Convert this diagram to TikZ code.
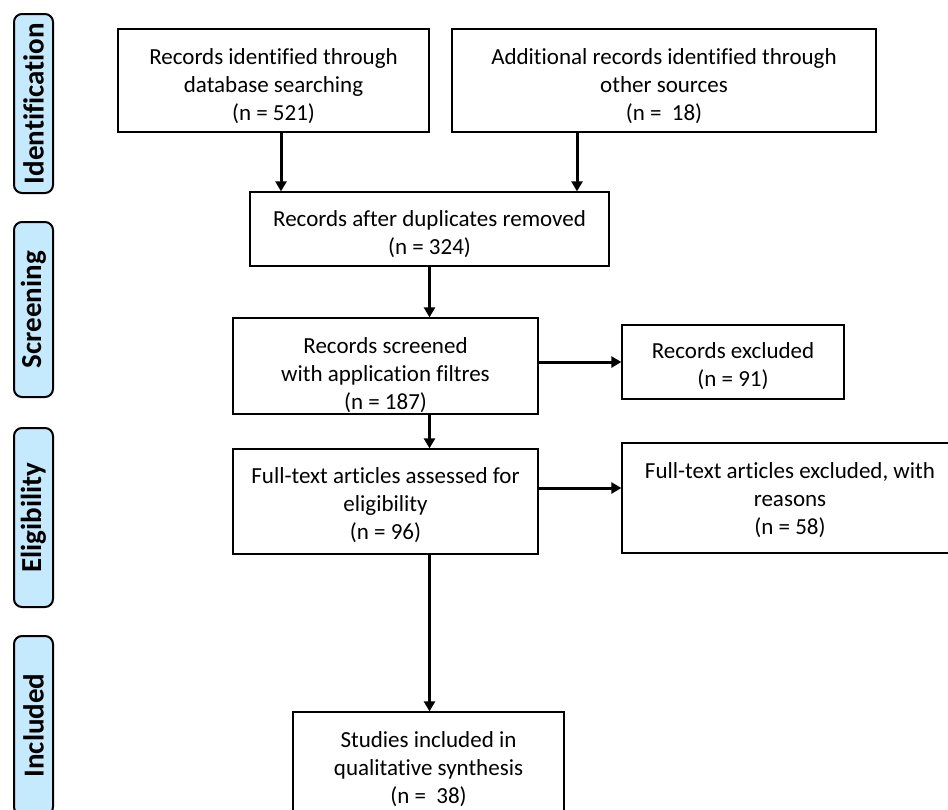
\documentclass[tikz,border=0pt]{standalone}
\usepackage{fontspec}
\setmainfont{Carlito}[Ligatures=NoCommon]
\usetikzlibrary{arrows.meta}
\definecolor{phaseblue}{RGB}{197,234,253}
\tikzset{
	box/.style={draw, line width=1.3pt, align=center, inner sep=0pt,
		font=\fontsize{23}{28}\selectfont},
	phase/.style={draw, line width=2pt, fill=phaseblue, rounded corners=8pt,
		minimum height=39pt, rotate=90, font=\fontsize{29}{34}\selectfont\bfseries},
	flow/.style={line width=3pt, -{Triangle[width=11pt,length=10pt]}}
}

\begin{document}
\begin{tikzpicture}[x=1pt, y=-1pt]
			\useasboundingbox (0,0) rectangle (948,809);
			
			% phase labels on the left
			\node [phase, minimum width=179pt] (identphase)  at (33.5,103.5) {Identification};
			\node [phase, minimum width=175pt] (screenphase) at (33.5,309.5) {Screening};
			\node [phase, minimum width=179pt] (eligphase)   at (33.5,517.5) {Eligibility};
			\node [phase, minimum width=179pt] (inclphase)   at (33.5,725.5) {Included};
			
			\node [box, minimum width=311pt, minimum height=103pt, text height=84pt] (dbrec)    at (273.5,80.5) {Records identified through\\database searching\\(n = 521)};
			\node [box, minimum width=424pt, minimum height=103pt, text height=84pt] (otherrec) at (664,80.5) {Additional records identified through\\other sources\\(n = \ 18)};
			\node [box, minimum width=359pt, minimum height=74pt, text height=54pt]  (dedup)    at (429.5,229) {Records after duplicates removed\\(n = 324)};
			\node [box, minimum width=305pt, minimum height=96pt, text height=90pt]  (screened) at (385.5,366) {Records screened\\with application filtres\\(n = 187)};
			\node [box, minimum width=222pt, minimum height=74pt, text height=52pt]  (excl)     at (733,362) {Records excluded\\(n = 91)};
			\node [box, minimum width=305pt, minimum height=105pt, text height=80pt] (fulltext) at (385.5,501.5) {Full-text articles assessed for\\eligibility\\(n = 96)};
			\node [box, minimum width=336pt, minimum height=110pt, text height=76pt] (ftexcl)   at (790,498) {Full-text articles excluded, with\\reasons\\(n = 58)};
			\node [box, minimum width=271pt, minimum height=116pt, text height=70pt] (incl)     at (428.5,770) {Studies included in\\qualitative synthesis\\(n = \ 38)};
			
			\draw [flow] ([xshift=7.5pt]dbrec.south) -- ([xshift=7.5pt]dbrec.south |- dedup.north);
			\draw [flow] ([xshift=-87pt]otherrec.south) -- ([xshift=-87pt]otherrec.south |- dedup.north);
			\draw [flow] (dedup.south) -- (dedup.south |- screened.north);
			\draw [flow] (excl.west -| screened.east) -- (excl.west);
			\draw [flow] (dedup.south |- screened.south) -- (dedup.south |- fulltext.north);
			\draw [flow] ([yshift=10pt]ftexcl.west -| fulltext.east) -- ([yshift=10pt]ftexcl.west);
			\draw [flow] (dedup.south |- fulltext.south) -- (dedup.south |- incl.north);
			
\end{tikzpicture}
\end{document}
